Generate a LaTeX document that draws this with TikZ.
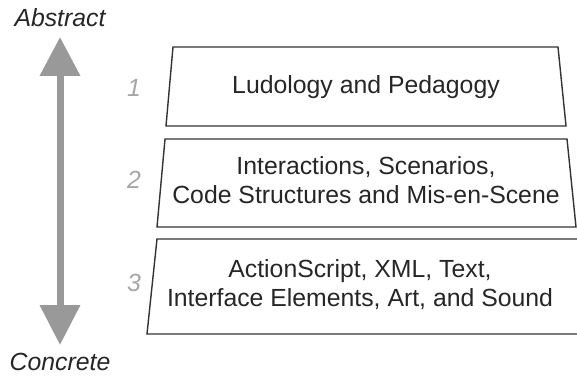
\documentclass[tikz,border=0pt]{standalone}
\usepackage{fontspec}
\setmainfont{Liberation Sans}
\usetikzlibrary{arrows.meta}
\begin{document}
\begin{tikzpicture}[x=1pt, y=-1pt,
  layer/.style={draw=black!80, line width=1.4pt},
  layertext/.style={align=center, font=\fontsize{24.8}{29}\selectfont, text=black!85, inner sep=0pt},
  levelnum/.style={font=\fontsize{24.8}{29}\selectfont\itshape, text=black!35},
  axislabel/.style={font=\fontsize{24.8}{29}\selectfont\itshape, text=black!85}]
  \useasboundingbox (0, 0) rectangle (577, 379);
  % the three layers
  \draw[layer] (173, 47) coordinate (l1a) -- (558, 47) coordinate (l1b) -- (566, 126) coordinate (l1c) -- (166, 126) coordinate (l1d) -- cycle;
  \draw[layer] (165, 139) coordinate (l2a) -- (567, 139) coordinate (l2b) -- (576, 227) coordinate (l2c) -- (157, 227) coordinate (l2d) -- cycle;
  \draw[layer] (157, 239) coordinate (l3a) -- (578, 239) coordinate (l3b) -- (578, 334) coordinate (l3c) -- (147, 334) coordinate (l3d) -- cycle;
  \node[layertext] (t1) at (366, 87) {Ludology and Pedagogy};
  \node[layertext] (t2) at (366, 180) {Interactions, Scenarios,\\ Code Structures and Mis-en-Scene};
  \node[layertext] (t3) at (360, 285) {ActionScript, XML, Text,\\Interface Elements, Art, and Sound};
  \foreach \n/\y in {1/88, 2/180, 3/283} {
    \node[levelnum] (n\n) at (134, \y) {\n};
  }
  % abstract -- concrete axis
  \node[axislabel] (abs) at (60, 18) {Abstract};
  \node[axislabel] (con) at (60, 362) {Concrete};
  \coordinate (up) at (60, 37);
  \coordinate (down) at (60, 345);
  \draw[line width=7pt, black!40, {Triangle[width=39pt, length=39pt]}-{Triangle[width=39pt, length=40pt]}] (up) -- (down);
\end{tikzpicture}
\end{document}
